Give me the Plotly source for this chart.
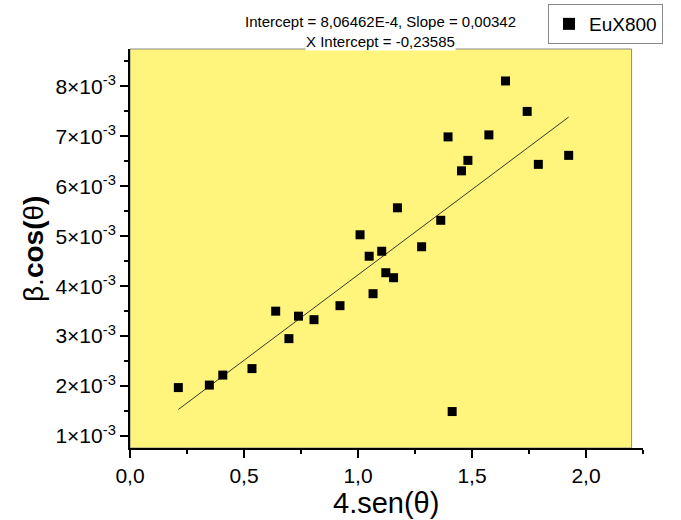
import plotly.graph_objects as go

# data (y in units of 1e-3)
x_vals = [0.212, 0.348, 0.407, 0.535, 0.639, 0.697, 0.739, 0.807, 0.921, 1.009,
          1.049, 1.066, 1.104, 1.122, 1.156, 1.173, 1.279, 1.363, 1.395, 1.413,
          1.454, 1.482, 1.574, 1.647, 1.742, 1.791, 1.924]
y_milli = [1.97, 2.02, 2.22, 2.35, 3.50, 2.95, 3.40, 3.33, 3.61, 5.03,
           4.60, 3.85, 4.70, 4.27, 4.17, 5.57, 4.79, 5.32, 6.99, 1.49,
           6.31, 6.52, 7.03, 8.11, 7.50, 6.44, 6.62]
y_vals = [v * 1e-3 for v in y_milli]

intercept = 8.06462e-4
slope = 0.00342

x_tickvals = [0.0, 0.5, 1.0, 1.5, 2.0]
x_ticktext = ["0,0", "0,5", "1,0", "1,5", "2,0"]
y_tickvals = [1e-3, 2e-3, 3e-3, 4e-3, 5e-3, 6e-3, 7e-3, 8e-3]
y_ticktext = [f"{k}×10<sup>-3</sup>" for k in range(1, 9)]

x_title = "4.sen(θ)"
y_title = "β.<b>cos(</b>θ<b>)</b>"

fit_x = [min(x_vals), max(x_vals)]
fit_y = [intercept + slope * v for v in fit_x]

FONT = "Arial, Liberation Sans, sans-serif"
L, R, T, B, W, H = 130, 38, 49, 72, 681, 520
PW, PH = W - L - R, H - T - B

def px_x(p):
    return (p - L) / PW

def px_y(p):
    return (H - B - p) / PH

fig = go.Figure()
fig.add_trace(go.Scatter(x=fit_x, y=fit_y, mode="lines",
                         line=dict(color="#222222", width=0.9),
                         showlegend=False, hoverinfo="skip"))
fig.add_trace(go.Scatter(x=x_vals, y=y_vals, mode="markers", name="EuX800",
                         marker=dict(symbol="square", size=9, color="black")))

# yellow plotting panel with thin grey frame
fig.add_shape(type="rect", xref="x", yref="paper", x0=0, x1=2.2, y0=0, y1=1,
              fillcolor="#FFF57C", line=dict(color="#8a8a8a", width=1), layer="below")

fig.add_annotation(text="Intercept = 8,06462E-4, Slope = 0,00342",
                   xref="paper", yref="paper", x=px_x(380), y=px_y(22),
                   xanchor="center", yanchor="middle", showarrow=False,
                   font=dict(family=FONT, size=15, color="black"))
fig.add_annotation(text="X Intercept = -0,23585",
                   xref="paper", yref="paper", x=px_x(380), y=px_y(41),
                   xanchor="center", yanchor="middle", showarrow=False,
                   bgcolor="white", borderpad=0,
                   font=dict(family=FONT, size=15, color="black"))

# axis titles
fig.add_annotation(text=x_title, xref="paper", yref="paper",
                   x=px_x(386), y=px_y(503), xanchor="center", yanchor="middle",
                   showarrow=False, font=dict(family=FONT, size=29, color="black"))
fig.add_annotation(text=y_title, xref="paper", yref="paper",
                   x=px_x(33), y=px_y(249), xanchor="center", yanchor="middle",
                   textangle=-90, showarrow=False,
                   font=dict(family=FONT, size=28, color="black"))

fig.update_layout(
    width=W, height=H,
    margin=dict(l=L, r=R, t=T, b=B, autoexpand=False),
    paper_bgcolor="white", plot_bgcolor="white",
    font=dict(family=FONT, color="black"),
    showlegend=True,
    legend=dict(xref="container", yref="container",
                x=548 / W, y=1 - 4 / H, xanchor="left", yanchor="top",
                bgcolor="white", bordercolor="#8a8a8a", borderwidth=1,
                font=dict(family=FONT, size=19, color="black"),
                itemsizing="constant"),
)
fig.update_xaxes(range=[0, 2.25], showgrid=False, zeroline=False,
                 showline=True, linecolor="black", linewidth=2,
                 ticks="outside", ticklen=8, tickwidth=1.5, tickcolor="black",
                 tickvals=x_tickvals, ticktext=x_ticktext,
                 tickfont=dict(family=FONT, size=21, color="black"),
                 minor=dict(ticks="outside", ticklen=4, tickwidth=1.5, tickcolor="black",
                            tickvals=[0.25, 0.75, 1.25, 1.75, 2.25]))
fig.update_yaxes(range=[0.76e-3, 8.75e-3], showgrid=False, zeroline=False,
                 showline=True, linecolor="black", linewidth=2,
                 ticks="outside", ticklen=8, tickwidth=1.5, tickcolor="black",
                 tickvals=y_tickvals, ticktext=y_ticktext,
                 tickfont=dict(family=FONT, size=21, color="black"),
                 minor=dict(ticks="outside", ticklen=4, tickwidth=1.5, tickcolor="black",
                            tickvals=[1.5e-3, 2.5e-3, 3.5e-3, 4.5e-3, 5.5e-3, 6.5e-3, 7.5e-3, 8.5e-3]))

fig.write_html("out.html", config={"displayModeBar": False},
               post_script="document.body.style.margin='0';")
